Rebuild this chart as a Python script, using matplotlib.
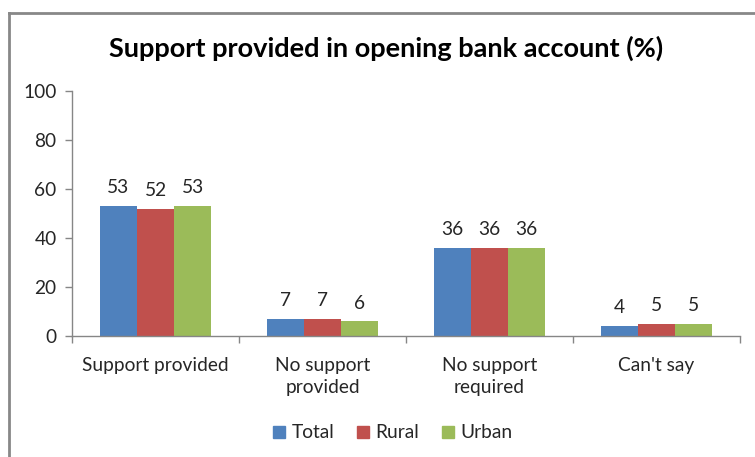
import matplotlib
matplotlib.use("Agg")
import matplotlib.pyplot as plt
from matplotlib.lines import Line2D
import numpy as np

plt.rcParams['font.family'] = ['Lato', 'DejaVu Sans']

categories = ["Support provided", "No support\nprovided", "No support\nrequired", "Can't say"]
series_names = ["Total", "Rural", "Urban"]
total = [53, 7, 36, 4]
rural = [52, 7, 36, 5]
urban = [53, 6, 36, 5]
colors = ["#4F81BD", "#C0504D", "#9BBB59"]
yticks = [0, 20, 40, 60, 80, 100]

fig = plt.figure(figsize=(7.55, 4.57), dpi=100)
ax = fig.add_axes([72 / 755, 1 - 336 / 457, 668 / 755, 245 / 457])

fs = 13.8
x = np.arange(len(categories))
width = 0.222
text_color = "#262626"
for i, (vals, name, c) in enumerate(zip([total, rural, urban], series_names, colors)):
    pos = x + (i - 1) * width
    bars = ax.bar(pos, vals, width, color=c, label=name)
    for b, v in zip(bars, vals):
        ax.annotate(f"{v}", (b.get_x() + b.get_width() / 2, v),
                    xytext=(0, 7), textcoords="offset points",
                    ha="center", va="bottom", fontsize=fs, color=text_color)

ax.set_xlim(-0.5, len(categories) - 0.5)
ax.set_ylim(0, 100)
ax.set_yticks(yticks)
ax.set_yticklabels([str(t) for t in yticks], fontsize=fs, color=text_color)

# category labels centred, tick marks on the boundaries
ax.set_xticks(x)
ax.set_xticklabels(categories, fontsize=fs, color=text_color, linespacing=1.38)
ax.tick_params(axis="x", length=0, pad=15)
ax.set_xticks(np.arange(len(categories) + 1) - 0.5, minor=True)
ax.tick_params(axis="x", which="minor", length=5, color="#868686", width=1)
ax.tick_params(axis="y", length=5, color="#868686", width=1, pad=6)

for s in ["top", "right"]:
    ax.spines[s].set_visible(False)
for s in ["left", "bottom"]:
    ax.spines[s].set_color("#868686")
    ax.spines[s].set_linewidth(1)

fig.text(0.511, 1 - 48 / 457, "Support provided in opening bank account (%)",
         ha="center", va="center", fontsize=19.5, fontweight="bold", color="black")

handles = [Line2D([], [], marker="s", linestyle="none", markersize=8.5,
                  markerfacecolor=c, markeredgecolor=c) for c in colors]
fig.legend(handles, series_names, loc="center", bbox_to_anchor=(390 / 755, 1 - 433 / 457),
           ncol=3, frameon=False, fontsize=fs, handletextpad=0.05, columnspacing=0.9,
           handlelength=1.2, labelcolor=text_color)

# outer chart frame (top and left edges)
fig.add_artist(Line2D([9 / 755, 1], [1 - 13 / 457, 1 - 13 / 457], color="#888888",
                      linewidth=2, transform=fig.transFigure))
fig.add_artist(Line2D([9 / 755, 9 / 755], [0, 1 - 13 / 457], color="#888888",
                      linewidth=2, transform=fig.transFigure))

fig.savefig("out.png", dpi=100, facecolor="white")
